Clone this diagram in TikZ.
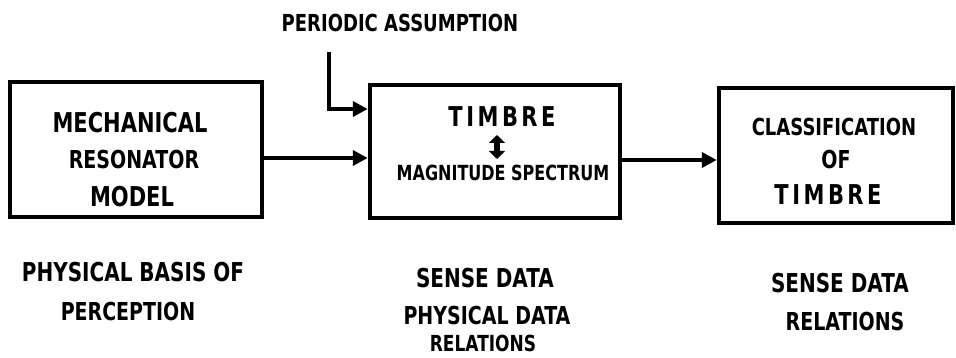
\documentclass[tikz,border=0pt]{standalone}
\usepackage{fontspec}
\usepackage{graphicx}
\setmainfont{DejaVu Sans}
\usetikzlibrary{arrows.meta}
\newcommand\tallbox[1]{\scalebox{1}[1.3]{#1}}
\tikzset{
  x=1pt, y=-1pt,
  box/.style={draw, line width=4.5pt, inner sep=0pt},
  arr/.style={line width=4.5pt, -{Triangle[length=15pt,width=15pt]}},
  dbl/.style={line width=6pt, {Triangle[length=8pt,width=16pt]}-{Triangle[length=8pt,width=16pt]}},
  lbl/.style={font=\bfseries\fontsize{#1}{#1}\selectfont, inner sep=0pt, align=center},
  lbl/.default=18
}
\begin{document}
\begin{tikzpicture}
\useasboundingbox (0,0) rectangle (956,358);
% boxes
\node[box, minimum width=252pt, minimum height=135pt] (b1) at (136,149.5) {};
\node[box, minimum width=250pt, minimum height=133pt] (b2) at (495,151.5) {};
\node[box, minimum width=234pt, minimum height=135pt] (b3) at (836,155.5) {};
% box texts
\node[lbl=21] (t1a) at (130,123) {\tallbox{MECHANICAL}};
\node[lbl=19] (t1b) at (134,160) {\tallbox{RESONATOR}};
\node[lbl=21] (t1c) at (132,197) {\tallbox{MODEL}};
\node[lbl=21] (t2a) at (502,117) {\tallbox{T\,I\,M\,B\,R\,E}};
\coordinate (d1) at (497,135);
\coordinate (d2) at (497,159);
\draw[dbl] (d1) -- (d2);
\node[lbl=16] (t2b) at (503,173) {\tallbox{MAGNITUDE SPECTRUM}};
\node[lbl=18] (t3a) at (834,127) {\tallbox{CLASSIFICATION}};
\node[lbl=19] (t3b) at (836,160) {\tallbox{OF}};
\node[lbl=21] (t3c) at (828,195) {\tallbox{T\,I\,M\,B\,R\,E}};
% top label
\node[lbl=18] (pa) at (400,23) {\tallbox{PERIODIC ASSUMPTION}};
% bottom labels
\node[lbl=20] (l1a) at (133,272) {\tallbox{PHYSICAL BASIS OF}};
\node[lbl=19] (l1b) at (128,312) {\tallbox{PERCEPTION}};
\node[lbl=20] (l2a) at (485,278) {\tallbox{SENSE DATA}};
\node[lbl=19] (l2b) at (487,316) {\tallbox{PHYSICAL DATA}};
\node[lbl=17] (l2c) at (483,343) {\tallbox{RELATIONS}};
\node[lbl=20] (l3a) at (840,283) {\tallbox{SENSE DATA}};
\node[lbl=19] (l3b) at (845,322) {\tallbox{RELATIONS}};
% connectors
\coordinate (a1) at (0,158);
\coordinate (a2) at (0,160);
\coordinate (p0) at (329,52);
\coordinate (p1) at (0,109);
\draw[arr] (b1.east |- a1) -- (b2.west |- a1);
\draw[arr] (b2.east |- a2) -- (b3.west |- a2);
\draw[arr] (p0) |- (b2.west |- p1);
\end{tikzpicture}
\end{document}
